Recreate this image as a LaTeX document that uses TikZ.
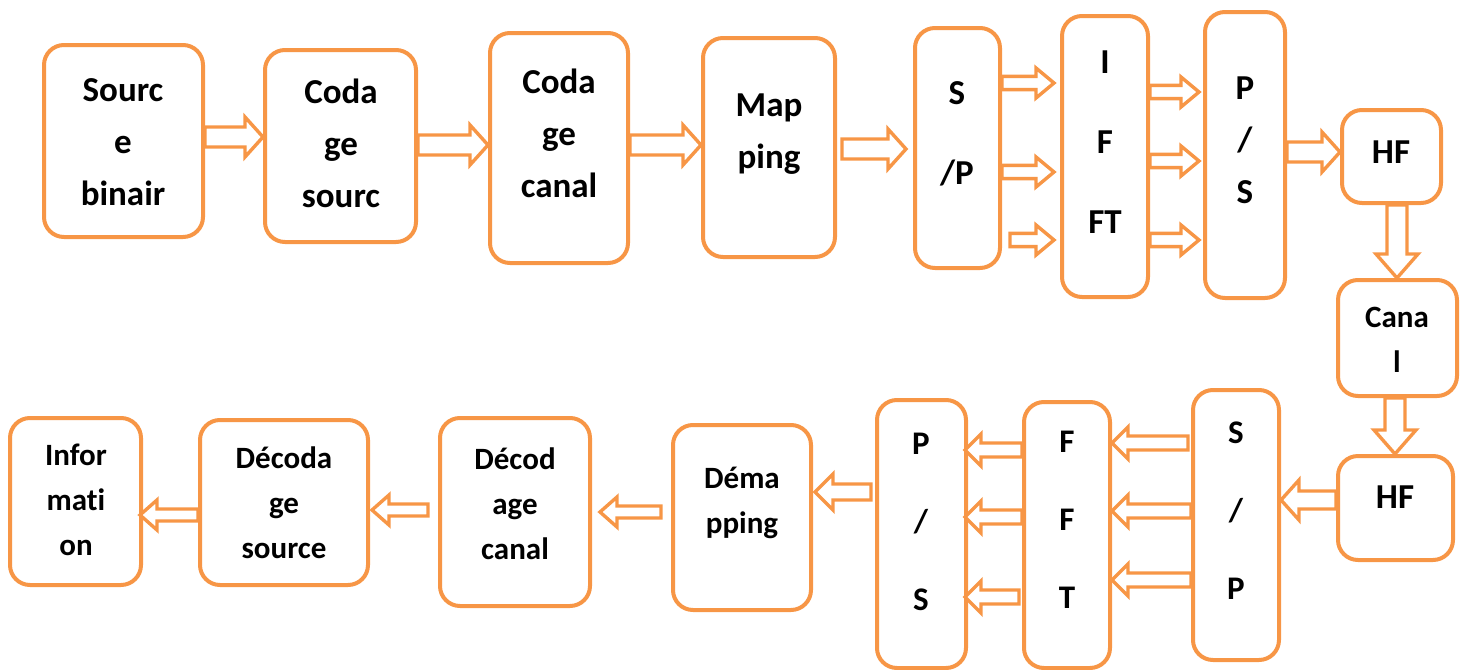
\documentclass[tikz,border=0pt]{standalone}
\usepackage{fontspec}
\setmainfont{Carlito}[Ligatures={NoCommon}]
\usetikzlibrary{calc,fit}

\definecolor{blkorange}{HTML}{F79646}

\tikzset{
  blk/.style={draw=blkorange, line width=2pt, rounded corners=10pt, inner sep=0pt, fill=white},
  barrow/.style={draw=blkorange, line width=1.7pt, fill=white, line join=miter},
  lbl/.style={align=center, font=\bfseries\fontsize{17.5}{26}\selectfont},
  lblwide/.style={align=center, font=\bfseries\fontsize{17.5}{40}\selectfont},
  lblsm/.style={align=center, font=\bfseries\fontsize{15.5}{22.5}\selectfont},
  lblsmwide/.style={align=center, font=\bfseries\fontsize{16.5}{39}\selectfont},
}

% hollow block arrow: from, to, shaft half width, head half width, head length
\newcommand{\blockarrow}[5]{%
  \coordinate (s) at (#1);%
  \coordinate (e) at (#2);%
  \coordinate (hb) at ($(e)!#5!(s)$);%
  \draw [barrow] ($(s)!#3!-90:(e)$) -- ($(hb)!#3!-90:(e)$) -- ($(hb)!#4!-90:(e)$)
        -- (e) -- ($(hb)!#4!90:(e)$) -- ($(hb)!#3!90:(e)$) -- ($(s)!#3!90:(e)$) -- cycle;%
}

\begin{document}
\begin{tikzpicture}[x=0.5pt, y=-0.5pt]
            \useasboundingbox (0,0) rectangle (1469,670);

            % Drawing blocks of the emitter (top row)
            \node [blk, fit={(44,45) (203,237)}] (src) {};%
            \node [blk, fit={(265,50) (416,242)}] (cs) {};%
            \node [blk, fit={(490,33) (628,263)}] (cc) {};%
            \node [blk, fit={(703,38) (835,257)}] (map) {};%
            \node [blk, fit={(915,28) (1000,268)}] (sp1) {};%
            \node [blk, fit={(1062,16) (1148,297)}] (ifft) {};%
            \node [blk, fit={(1205,12) (1285,298)}] (ps1) {};%
            \node [blk, fit={(1342,110) (1441,203)}] (hf1) {};%

            % Drawing channel
            \node [blk, fit={(1338,280) (1457,396)}] (can) {};%

            % Drawing blocks of the receiver (bottom row)
            \node [blk, fit={(1338,456) (1453,560)}] (hf2) {};%
            \node [blk, fit={(1193,390) (1279,660)}] (sp2) {};%
            \node [blk, fit={(1024,402) (1110,668)}] (fft) {};%
            \node [blk, fit={(877,400) (966,668)}] (ps2) {};%
            \node [blk, fit={(673,425) (811,610)}] (dem) {};%
            \node [blk, fit={(440,418) (590,606)}] (dcc) {};%
            \node [blk, fit={(200,420) (368,585)}] (dcs) {};%
            \node [blk, fit={(10,418) (141,585)}] (inf) {};%

            % Writing labels
            \node [lbl] (srcT) at (123,142) {Sourc\\e\\binair};%
            \node [lbl] (csT) at (341,143) {Coda\\ge\\sourc};%
            \node [lbl] (ccT) at (559,133) {Coda\\ge\\canal};%
            \node [lbl] (mapT) at (769,134) {Map\\ping};%
            \node [lblwide] (sp1T) at (957,134) {S\\/P};%
            \node [lblwide] (ifftT) at (1105,142) {I\\F\\FT};%
            \node [lbl] (ps1T) at (1245,140) {P\\/\\S};%
            \node [lbl] (hf1T) at (1391,152) {HF};%
            \node [lblsm] (canT) at (1397,340) {Cana\\l};%
            \node [lbl] (hf2T) at (1395,497) {HF};%
            \node [lblsmwide] (sp2T) at (1236,511) {S\\/\\P};%
            \node [lblsmwide] (fftT) at (1067,520) {F\\F\\T};%
            \node [lblsmwide] (ps2T) at (921,522) {P\\/\\S};%
            \node [lblsm] (demT) at (742,503) {Déma\\pping};%
            \node [lblsm] (dccT) at (515,504) {Décod\\age\\canal};%
            \node [lblsm] (dcsT) at (284,503) {Décoda\\ge\\source};%
            \node [lblsm] (infT) at (76,500) {Infor\\mati\\on};%

            % Arrows of the emitter
            \blockarrow{src.east |- 0,137}{cs.west |- 0,137}{5pt}{10pt}{9pt}
            \blockarrow{cs.east |- 0,145}{cc.west |- 0,145}{5pt}{10pt}{9pt}
            \blockarrow{cc.east |- 0,145}{map.west |- 0,145}{5pt}{10pt}{9pt}
            \blockarrow{$(map.east |- 0,149)+(5,0)$}{$(sp1.west |- 0,149)+(-7,0)$}{5pt}{10pt}{9pt}
            \blockarrow{sp1.east |- 0,83}{$(ifft.west |- 0,83)+(-6,0)$}{3.3pt}{7.5pt}{9pt}
            \blockarrow{sp1.east |- 0,172}{$(ifft.west |- 0,172)+(-6,0)$}{3.3pt}{7.5pt}{9pt}
            \blockarrow{$(sp1.east |- 0,240)+(8,0)$}{$(ifft.west |- 0,240)+(-6,0)$}{3.3pt}{7.5pt}{9pt}
            \blockarrow{ifft.east |- 0,92}{$(ps1.west |- 0,92)+(-4,0)$}{3.3pt}{7.5pt}{9pt}
            \blockarrow{ifft.east |- 0,161}{$(ps1.west |- 0,161)+(-4,0)$}{3.3pt}{7.5pt}{9pt}
            \blockarrow{ifft.east |- 0,240}{$(ps1.west |- 0,240)+(-4,0)$}{3.3pt}{7.5pt}{9pt}
            \blockarrow{ps1.east |- 0,152}{hf1.west |- 0,152}{5pt}{10pt}{9pt}

            % Arrows through the channel
            \blockarrow{hf1.south -| 1397,0}{can.north -| 1397,0}{5pt}{10.5pt}{12pt}
            \blockarrow{can.south -| 1395,0}{hf2.north -| 1395,0}{5pt}{10.5pt}{12pt}

            % Arrows of the receiver
            \blockarrow{hf2.west |- 0,500}{sp2.east |- 0,500}{4.5pt}{10pt}{9pt}
            \blockarrow{$(sp2.west |- 0,443)+(-3,0)$}{fft.east |- 0,443}{3.5pt}{8pt}{8pt}
            \blockarrow{sp2.west |- 0,511}{fft.east |- 0,511}{3.5pt}{8pt}{8pt}
            \blockarrow{sp2.west |- 0,580}{fft.east |- 0,580}{3.5pt}{8pt}{8pt}
            \blockarrow{fft.west |- 0,450}{$(ps2.east |- 0,450)+(-3,0)$}{3.5pt}{8pt}{8pt}
            \blockarrow{fft.west |- 0,517}{$(ps2.east |- 0,517)+(-3,0)$}{3.5pt}{8pt}{8pt}
            \blockarrow{$(fft.west |- 0,597)+(-3,0)$}{$(ps2.east |- 0,597)+(-3,0)$}{3.5pt}{8pt}{8pt}
            \blockarrow{$(ps2.west |- 0,492)+(-4,0)$}{$(dem.east |- 0,492)+(2,0)$}{4pt}{9pt}{9pt}
            \blockarrow{$(dem.west |- 0,512)+(-10,0)$}{$(dcc.east |- 0,512)+(8,0)$}{3pt}{7.5pt}{8.5pt}
            \blockarrow{$(dcc.west |- 0,510)+(-10,0)$}{$(dcs.east |- 0,510)+(2,0)$}{3pt}{7.5pt}{8.5pt}
            \blockarrow{dcs.west |- 0,515}{$(inf.east |- 0,515)+(-3,0)$}{3pt}{7.5pt}{8.5pt}

        \end{tikzpicture}
\end{document}
